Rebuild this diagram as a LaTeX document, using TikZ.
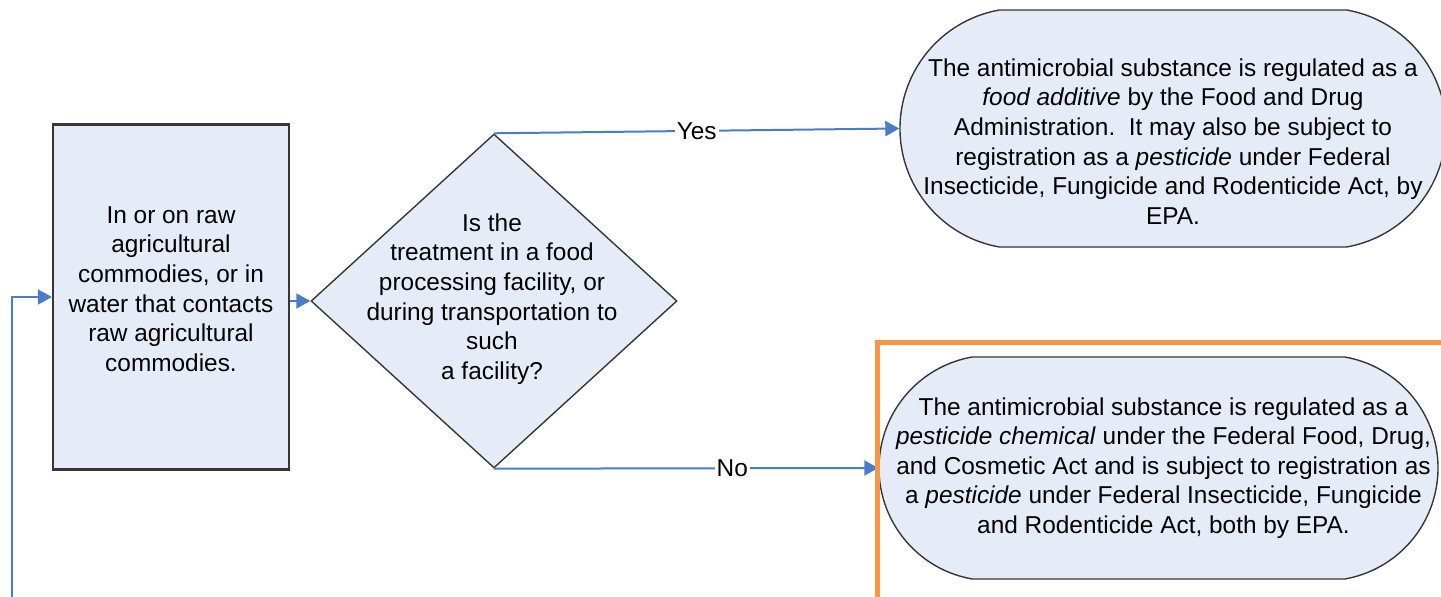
\documentclass[tikz,border=0pt]{standalone}
\usepackage{fontspec}
\setmainfont{Liberation Sans}
\usetikzlibrary{arrows.meta, shapes.geometric, shapes.misc, positioning, calc}
\definecolor{boxfill}{RGB}{230,236,247}
\definecolor{flowblue}{RGB}{74,124,200}
\definecolor{markorange}{RGB}{247,150,70}
\definecolor{edgegray}{RGB}{55,55,55}
\tikzset{>={Triangle[length=7pt,width=7.5pt]}}
\tikzset{
  txt/.style={font=\fontsize{12.2}{14.8}\selectfont, align=center, inner sep=0pt},
  procbox/.style={draw=edgegray, line width=1.1pt, fill=boxfill, minimum width=118pt, minimum height=172.5pt, inner sep=0pt},
  querybox/.style={diamond, draw=edgegray, line width=0.7pt, fill=boxfill, minimum width=183pt, minimum height=167pt, inner sep=0pt},
  termbox/.style={rounded rectangle, rounded rectangle arc length=160, draw=edgegray, line width=0.7pt, fill=boxfill, inner sep=0pt},
  flow/.style={->, draw=flowblue, line width=1pt},
  flowlabel/.style={txt, fill=white, inner sep=1pt}
}

\begin{document}
\begin{tikzpicture}[x=0.5pt, y=-0.5pt]
\useasboundingbox (0,0) rectangle (1441,597);
\clip (0,0) rectangle (1441,597);

% shapes
\node[procbox] (commod) at (171,297) {};
\node[querybox] (query) at (494,301) {};
\node[termbox, minimum width=273pt, minimum height=118.5pt] (fda) at (1173,128.5) {};
\node[termbox, minimum width=279.5pt, minimum height=111pt] (epa) at (1158.5,468) {};

% texts
\node[txt] (commodtext) at ([shift={(0,-8)}]commod.center) {In or on raw\\agricultural\\commodies, or in\\water that contacts\\raw agricultural\\commodies.};
\node[txt] (querytext) at ([shift={(-2,-2)}]query.center) {Is the\\treatment in a food\\processing facility, or\\during transportation to\\such\\a facility?};
\node[txt] (fdatext) at ([shift={(0,13)}]fda.center) {The antimicrobial substance is regulated as a\\\textit{food additive} by the Food and Drug\\Administration.\ \ It may also be subject to\\registration as a \textit{pesticide} under Federal\\Insecticide, Fungicide and Rodenticide Act, by\\EPA.};
\node[txt] (epatext) at ([shift={(5,0)}]epa.center) {The antimicrobial substance is regulated as a\\\textit{pesticide chemical} under the Federal Food, Drug,\\and Cosmetic Act and is subject to registration as\\a \textit{pesticide} under Federal Insecticide, Fungicide\\and Rodenticide Act, both by EPA.};

% connectors
\coordinate (loopin) at (12,620);
\draw[flow] (loopin) |- (commod.west);
\draw[flow] (query.west -| commod.east) -- (query.west);
\draw[flow] (query.north) -- node[flowlabel]{Yes} (fda.west);
\draw[flow] (query.south) -- node[flowlabel, pos=0.62]{No} (epa.west);

% highlight frame
\draw[markorange, line width=2.5pt] (877,343) rectangle (1480,640);
\end{tikzpicture}
\end{document}
